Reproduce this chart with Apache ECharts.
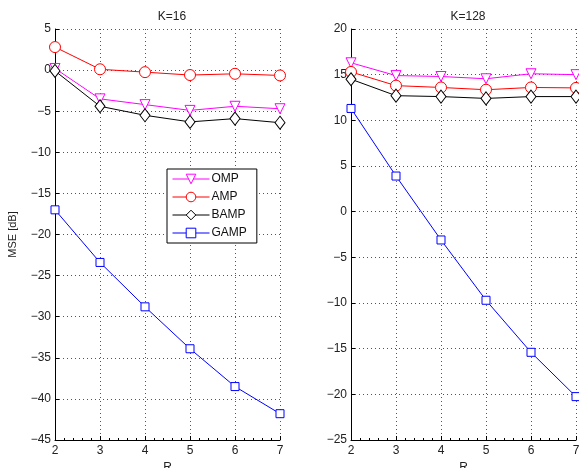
<!DOCTYPE html>
<html>
<head>
<meta charset="utf-8">
<script src="https://cdn.jsdelivr.net/npm/echarts@6/dist/echarts.min.js"></script>
<style>
html, body { margin: 0; padding: 0; background: #fff; }
#main { width: 579px; height: 468px; }
</style>
</head>
<body>
<div id="main"></div>
<script>
// R values
var rValues = [2, 3, 4, 5, 6, 7]
var seriesNames = ['OMP', 'AMP', 'BAMP', 'GAMP']

// K=16 panel
var omp16 = [0.2, -3.5, -4.2, -4.9, -4.4, -4.7]
var amp16 = [2.8, 0.1, -0.25, -0.6, -0.45, -0.65]
var bamp16 = [-0.1, -4.4, -5.5, -6.3, -5.9, -6.4]
var gamp16 = [-17.0, -23.4, -28.8, -33.9, -38.5, -41.8]

// K=128 panel
var omp128 = [16.3, 14.9, 14.8, 14.55, 15.1, 15.0]
var amp128 = [15.3, 13.8, 13.6, 13.35, 13.6, 13.55]
var bamp128 = [14.5, 12.7, 12.6, 12.4, 12.6, 12.6]
var gamp128 = [11.3, 3.9, -3.1, -9.7, -15.4, -20.25]

var myChart = echarts.init(document.getElementById('main'))

var fontFamily = 'Liberation Sans, Arial, sans-serif'
var styles = {
  OMP: { color: '#ff00ff', symbol: 'triangle', size: 10, rotate: 180 },
  AMP: { color: '#ff0000', symbol: 'circle', size: 11, rotate: 0 },
  BAMP: { color: '#000000', symbol: 'diamond', size: [10, 13], rotate: 0 },
  GAMP: { color: '#0000ff', symbol: 'rect', size: 8, rotate: 0 }
}

function pairs (ys) {
  return rValues.map(function (r, i) { return [r, ys[i]] })
}

function makeSeries (name, ys, idx) {
  var s = styles[name]
  return {
    name: name,
    type: 'line',
    xAxisIndex: idx,
    yAxisIndex: idx,
    data: pairs(ys),
    clip: false,
    symbol: s.symbol,
    symbolSize: s.size,
    symbolRotate: s.rotate,
    showAllSymbol: true,
    animation: false,
    lineStyle: { color: s.color, width: 1 },
    itemStyle: { color: '#ffffff', borderColor: s.color, borderWidth: 1 }
  }
}

function minus (v) {
  return String(v).replace('-', '\u2212')
}

function xAxis (idx) {
  return {
    type: 'value',
    gridIndex: idx,
    min: 2,
    max: 7,
    interval: 1,
    name: 'R',
    nameLocation: 'middle',
    nameGap: 20,
    nameTextStyle: { color: '#222', fontSize: 12, fontFamily: fontFamily },
    axisLine: { onZero: false, lineStyle: { color: '#000', width: 1 } },
    axisTick: { inside: true, length: 4, lineStyle: { color: '#000' } },
    minorTick: { show: true, splitNumber: 5, length: 2, lineStyle: { color: '#000' } },
    axisLabel: { color: '#222', fontSize: 12, fontFamily: fontFamily, margin: 5 },
    splitLine: { show: true, lineStyle: { color: '#555', type: [1, 3], width: 1 } }
  }
}

function yAxis (idx, min, max) {
  var ax = {
    type: 'value',
    gridIndex: idx,
    min: min,
    max: max,
    interval: 5,
    axisLine: { show: true, onZero: false, lineStyle: { color: '#000', width: 1 } },
    axisTick: { show: true, inside: true, length: 4, lineStyle: { color: '#000' } },
    axisLabel: { color: '#222', fontSize: 12, fontFamily: fontFamily, margin: 4, formatter: minus },
    splitLine: { show: true, lineStyle: { color: '#555', type: [1, 3], width: 1 } }
  }
  if (idx === 0) {
    ax.name = 'MSE [dB]'
    ax.nameLocation = 'middle'
    ax.nameGap = 37
    ax.nameTextStyle = { color: '#222', fontSize: 11, fontFamily: fontFamily }
  }
  return ax
}

myChart.setOption({
  backgroundColor: '#ffffff',
  animation: false,
  title: [
    { text: 'K=16', left: 167, top: 6, textAlign: 'center', textStyle: { fontSize: 12, fontWeight: 'normal', color: '#222', fontFamily: fontFamily } },
    { text: 'K=128', left: 463, top: 6, textAlign: 'center', textStyle: { fontSize: 12, fontWeight: 'normal', color: '#222', fontFamily: fontFamily } }
  ],
  legend: {
    data: seriesNames,
    orient: 'vertical',
    left: 167,
    top: 169,
    padding: [4, 10, 4, 5],
    itemGap: 6,
    itemWidth: 37,
    itemHeight: 12,
    borderColor: '#000',
    borderWidth: 1,
    backgroundColor: '#fff',
    lineStyle: { width: 1 },
    itemStyle: { borderWidth: 1 },
    textStyle: { fontSize: 12, color: '#111', fontFamily: fontFamily, padding: [0, 0, 0, -3] }
  },
  grid: [
    { left: 55, top: 29, width: 225, height: 411, outerBoundsMode: 'none' },
    { left: 351, top: 29, width: 225, height: 411, outerBoundsMode: 'none' }
  ],
  xAxis: [xAxis(0), xAxis(1)],
  yAxis: [yAxis(0, -45, 5), yAxis(1, -25, 20)],
  series: [
    makeSeries('OMP', omp16, 0),
    makeSeries('AMP', amp16, 0),
    makeSeries('BAMP', bamp16, 0),
    makeSeries('GAMP', gamp16, 0),
    makeSeries('OMP', omp128, 1),
    makeSeries('AMP', amp128, 1),
    makeSeries('BAMP', bamp128, 1),
    makeSeries('GAMP', gamp128, 1)
  ]
})
window.onresize = myChart.resize
</script>
</body>
</html>
